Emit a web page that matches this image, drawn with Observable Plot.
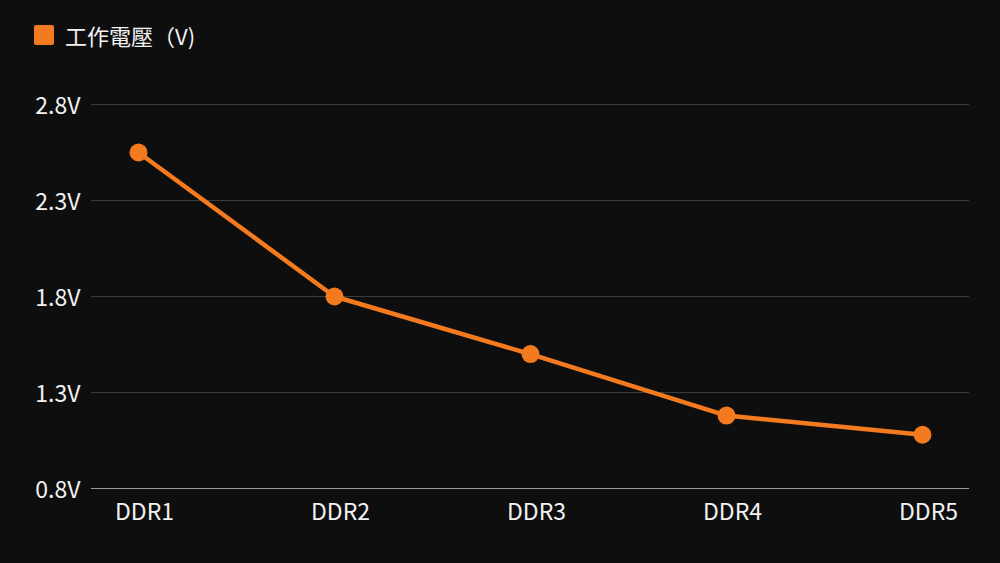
<!DOCTYPE html>
<html>
<head>
<meta charset="utf-8">
<script src="https://cdn.jsdelivr.net/npm/d3@7"></script>
<script src="https://cdn.jsdelivr.net/npm/@observablehq/plot@0.6"></script>
<style>
  html, body { margin: 0; padding: 0; background: #0e0e0e; }
  body { width: 1000px; height: 563px; overflow: hidden; font-family: "Noto Sans CJK TC", "Noto Sans", sans-serif; }
  #legend { height: 70px; box-sizing: border-box; padding-top: 24px; padding-left: 34px; display: flex; align-items: center; height: 70px; }
  #legend .sw { width: 20px; height: 20px; background: #f47a1f; border-radius: 2px; margin-right: 11px; margin-top: -24px; }
  #legend .lb { color: #f2f2f2; font-size: 22px; line-height: 26px; margin-top: -24px; }
  svg { display: block; }
</style>
</head>
<body>
<div id="legend"><div class="sw"></div><div class="lb">工作電壓（V)</div></div>
<div id="chart"></div>
<script>
const seriesName = "工作電壓（V)";
const categories = ["DDR1", "DDR2", "DDR3", "DDR4", "DDR5"];
const voltages = [2.55, 1.8, 1.5, 1.18, 1.08];
const yTicks = [0.8, 1.3, 1.8, 2.3, 2.8];

const data = categories.map((c, i) => ({ gen: c, v: voltages[i] }));
const orange = "#f47a1f";

const chart = Plot.plot({
  width: 1000,
  height: 493,
  marginTop: 34,
  marginBottom: 75,
  marginLeft: 91,
  marginRight: 31,
  style: { background: "transparent", color: "#f2f2f2", fontFamily: "'Noto Sans CJK TC', 'Noto Sans', sans-serif", fontSize: "23px" },
  x: { type: "point", domain: categories, padding: 0.23, label: null },
  y: { domain: [0.8, 2.8], label: null },
  marks: [
    Plot.ruleY(yTicks.slice(1), { stroke: "#3b3b3b", strokeWidth: 1 }),
    Plot.ruleY([yTicks[0]], { stroke: "#9a9a9a", strokeWidth: 1.2 }),
    Plot.axisY({ ticks: yTicks, tickSize: 0, tickPadding: 11, tickFormat: d => d.toFixed(1) + "V", fill: "#f2f2f2", fontSize: 23, dy: 2, label: null }),
    Plot.axisX({ tickSize: 0, tickPadding: 15, fill: "#f2f2f2", fontSize: 23, dx: 6, label: null }),
    Plot.line(data, { x: "gen", y: "v", stroke: orange, strokeWidth: 4.5 }),
    Plot.dot(data, { x: "gen", y: "v", r: 9, fill: orange, stroke: "none" })
  ]
});
document.getElementById("chart").appendChild(chart);
</script>
</body>
</html>
